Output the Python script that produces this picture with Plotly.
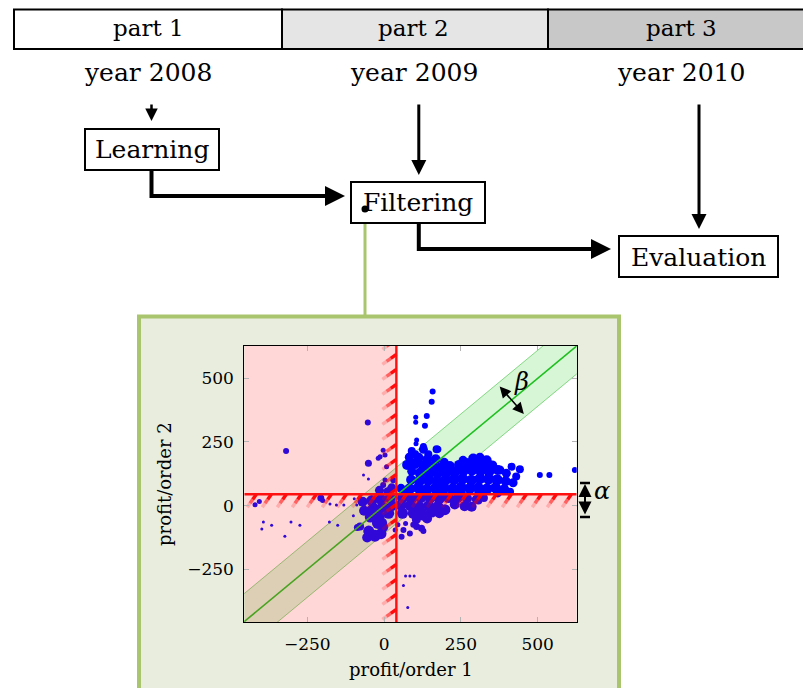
import plotly.graph_objects as go

W, H = 803, 688
FONT = "DejaVu Serif"

# ---------------- data ----------------
parts = ["part 1", "part 2", "part 3"]
years = ["year 2008", "year 2009", "year 2010"]
stages = ["Learning", "Filtering", "Evaluation"]

x_ticks = [-250, 0, 250, 500]
y_ticks = [-250, 0, 250, 500]
x_range = [-455, 627]
y_range = [-458, 628]

alpha_x = 40        # threshold on profit/order 1
alpha_y = 45        # threshold on profit/order 2
beta = 110          # half width of the diagonal band

points = [
    # top-right outliers
    (158, 448, 6), (155, 408, 6), (139, 352, 6), (103, 347, 5), (103, 327, 5), (133, 314, 6),
    (106, 258, 5), (104, 243, 5), (128, 232, 7), (175, 221, 7),
    # top-right cluster
    (90, 215, 8), (128, 221, 9), (144, 202, 8), (171, 221, 8), (101, 202, 8),
    (82, 190, 9), (112, 188, 10), (140, 180, 10), (168, 182, 10), (196, 170, 9),
    (75, 160, 10), (100, 165, 11), (130, 158, 11), (158, 152, 11), (186, 150, 11), (214, 156, 10),
    (244, 160, 10), (257, 178, 9), (290, 185, 10), (312, 190, 9), (334, 178, 10), (270, 165, 11),
    (300, 168, 11), (325, 160, 11), (352, 158, 10),
    (90, 135, 9), (118, 128, 11), (146, 125, 11), (174, 128, 11), (202, 130, 11), (230, 132, 11),
    (258, 138, 11), (286, 140, 11), (314, 138, 11), (342, 135, 11), (370, 140, 10), (398, 127, 9),
    (377, 140, 9), (430, 114, 8),
    (88, 102, 10), (116, 98, 11), (144, 100, 11), (172, 96, 11), (200, 100, 11), (228, 102, 11),
    (256, 105, 11), (284, 100, 11), (312, 106, 11), (340, 104, 11), (368, 102, 11), (396, 96, 10),
    (420, 90, 9),
    (55, 68, 9), (83, 66, 11), (111, 70, 11), (139, 64, 11), (167, 68, 11), (195, 70, 11),
    (223, 66, 11), (251, 72, 11), (279, 68, 11), (307, 70, 11), (335, 66, 11), (363, 70, 11),
    (391, 64, 10), (410, 55, 8),
    (70, 52, 10), (130, 50, 10), (190, 52, 10), (250, 50, 10), (310, 52, 10), (370, 50, 9),
    (415, 153, 8), (442, 143, 8), (507, 120, 6), (538, 120, 6), (621, 140, 6),
    # bottom-right (below alpha_y)
    (60, 30, 11), (90, 28, 11), (120, 32, 11), (150, 30, 11), (180, 28, 11), (210, 32, 11),
    (240, 30, 10), (270, 28, 10), (300, 25, 9), (325, 30, 8),
    (55, 2, 11), (85, 0, 11), (115, -5, 11), (145, 0, 11), (175, -3, 11), (198, -16, 11),
    (230, 5, 10), (262, -2, 10), (285, -4, 10), (307, 20, 8),
    (60, -30, 11), (95, -30, 11), (125, -35, 12), (155, -25, 11), (180, -30, 10), (140, -50, 10),
    (105, -55, 9),
    (36, -96, 5), (63, -96, 6), (57, -122, 6), (84, -109, 6), (106, -82, 7), (122, -89, 7),
    (70, -70, 5), (95, -75, 6), (128, -100, 6), (45, -75, 5),
    # around origin, left of alpha_x
    (20, 30, 11), (-10, 25, 11), (-40, 20, 11), (-70, 15, 10), (25, 0, 11), (-5, -5, 11),
    (-35, -10, 11), (-65, -20, 10), (15, -30, 11), (-15, -40, 11), (-45, -45, 11), (-20, -68, 12),
    (-8, -68, 11), (-46, -21, 10), (-50, -100, 11), (-30, -118, 12), (-10, -110, 11),
    (-55, -125, 10), (-78, -82, 8), (-87, -86, 7), (-3, -85, 10),
    # upper-left near origin
    (-3, 218, 5), (3, 199, 5), (-19, 186, 5), (-13, 192, 5), (8, 153, 5), (-51, 166, 7),
    (-53, 326, 6), (-67, 120, 3), (-51, 105, 3), (3, 101, 5), (-3, 81, 6), (12, 55, 9),
    (25, 70, 9), (-15, 60, 9), (30, 100, 6),
    # far-left outliers
    (-319, 215, 6), (-420, 4, 5), (-406, 16, 5), (-206, 30, 7), (-200, 20, 5), (-176, 6, 3),
    (-155, 3, 3), (-131, 3, 3), (-97, 27, 3), (-89, 3, 3), (-393, -64, 3), (-366, -77, 3),
    (-398, -92, 3), (-303, -64, 3), (-274, -77, 3), (-323, -120, 3), (-178, -64, 3),
    (-151, -77, 3), (-100, -40, 3),
    # bottom outliers
    (70, -276, 3), (84, -276, 3), (98, -276, 3), (63, -314, 3), (77, -400, 3),
]
profit1 = [p[0] for p in points]
profit2 = [p[1] for p in points]
bubble = [p[2] for p in points]

# ---------------- geometry helpers ----------------
def X(px):
    return px / W

def Y(py):
    return 1 - py / H

PL, PR, PT, PB = 244.3, 576.7, 345.7, 622.3   # plot area in pixels
ux = (x_range[1] - x_range[0]) / (PR - PL)    # data units per pixel
uy = (y_range[1] - y_range[0]) / (PB - PT)

x0, x1 = x_range
y0, y1 = y_range

fig = go.Figure()

# white plot background
fig.add_trace(go.Scatter(x=[x0, x1, x1, x0, x0], y=[y0, y0, y1, y1, y0], fill="toself",
                         fillcolor="white", line=dict(width=0), mode="lines",
                         hoverinfo="skip", showlegend=False))
# diagonal band
bx0, bx1 = x0 - 200, x1 + 200
fig.add_trace(go.Scatter(x=[bx0, bx1, bx1, bx0, bx0],
                         y=[bx0 - beta, bx1 - beta, bx1 + beta, bx0 + beta, bx0 - beta],
                         fill="toself", fillcolor="rgba(0,200,0,0.16)",
                         line=dict(width=0.8, color="rgba(60,190,60,0.75)"), mode="lines",
                         hoverinfo="skip", showlegend=False))
# points
fig.add_trace(go.Scatter(x=profit1, y=profit2, mode="markers",
                         marker=dict(color="#0000ff", size=bubble, opacity=1, line=dict(width=0)),
                         showlegend=False))
# diagonal line
fig.add_trace(go.Scatter(x=[bx0, bx1], y=[bx0, bx1], mode="lines",
                         line=dict(color="#1fbf1f", width=1.6), showlegend=False, hoverinfo="skip"))
# pink rejected regions
fig.add_trace(go.Scatter(
    x=[x0, alpha_x, alpha_x, x0, x0, None, alpha_x, x1, x1, alpha_x, alpha_x],
    y=[y0, y0, y1, y1, y0, None, y0, y0, alpha_y, alpha_y, y0],
    fill="toself", fillcolor="rgba(255,40,40,0.19)", line=dict(width=0), mode="lines",
    hoverinfo="skip", showlegend=False))

# hatching along the thresholds (fading away from the line)
def hatch(f0, f1):
    xs, ys = [], []
    xb = x0 - 12 * ux
    while xb < x1 + 12 * ux:
        tx, ty = xb + 9 * ux, alpha_y
        bxp, byp = xb, alpha_y - 13 * uy
        xs += [tx + f0 * (bxp - tx), tx + f1 * (bxp - tx), None]
        ys += [ty + f0 * (byp - ty), ty + f1 * (byp - ty), None]
        xb += 15 * ux
    yb = y0 - 12 * uy
    while yb < y1 + 12 * uy:
        rx, ry = alpha_x, yb + 10 * uy
        lx, ly = alpha_x - 14 * ux, yb
        xs += [rx + f0 * (lx - rx), rx + f1 * (lx - rx), None]
        ys += [ry + f0 * (ly - ry), ry + f1 * (ly - ry), None]
        yb += 15 * uy
    return xs, ys

for (f0, f1, op) in [(0.0, 0.4, 0.95), (0.4, 0.7, 0.55), (0.7, 1.0, 0.2)]:
    hx, hy = hatch(f0, f1)
    fig.add_trace(go.Scatter(x=hx, y=hy, mode="lines",
                             line=dict(color="rgba(255,0,0,%s)" % op, width=3.5),
                             hoverinfo="skip", showlegend=False))

# red threshold lines
fig.add_trace(go.Scatter(x=[alpha_x, alpha_x, None, x0, x1], y=[y0, y1, None, alpha_y, alpha_y],
                         mode="lines", line=dict(color="#ff1010", width=2.4),
                         hoverinfo="skip", showlegend=False))

# ---------------- diagram shapes ----------------
shapes = []
# green panel
shapes.append(dict(type="rect", xref="paper", yref="paper", x0=X(139), x1=X(619), y0=Y(702), y1=Y(316.5),
                   fillcolor="#e9eddd", line=dict(color="#a9c56e", width=4), layer="below"))
shapes.append(dict(type="line", xref="paper", yref="paper", x0=X(365), x1=X(365), y0=Y(209), y1=Y(316),
                   line=dict(color="#a9c56e", width=3), layer="below"))
# top bar
bar_edges = [14, 282, 548, 808]
bar_fill = ["white", "#e5e5e5", "#c8c8c8"]
for i in range(3):
    shapes.append(dict(type="rect", xref="paper", yref="paper", x0=X(bar_edges[i]), x1=X(bar_edges[i + 1]),
                       y0=Y(49), y1=Y(9.5), fillcolor=bar_fill[i], line=dict(color="black", width=2),
                       layer="below"))
# stage boxes
boxes = [(85, 129, 219, 170), (351, 182, 485, 223), (619, 236, 778, 277)]
for (a, b, c, d) in boxes:
    shapes.append(dict(type="rect", xref="paper", yref="paper", x0=X(a), x1=X(c), y0=Y(d), y1=Y(b),
                       fillcolor="white", line=dict(color="black", width=2), layer="below"))
# connectors (vertical parts)
for (xa, ya, yb) in [(151.5, 170, 196), (418.8, 223, 249)]:
    shapes.append(dict(type="line", xref="paper", yref="paper", x0=X(xa), x1=X(xa), y0=Y(ya), y1=Y(yb + 2),
                       line=dict(color="black", width=4), layer="below"))
# dot on filtering
shapes.append(dict(type="circle", xref="paper", yref="paper", x0=X(361.5), x1=X(368.5), y0=Y(212.5),
                   y1=Y(205.5), fillcolor="black", line=dict(width=0)))
# alpha caps
for yy in [483, 517]:
    shapes.append(dict(type="line", xref="paper", yref="paper", x0=X(580), x1=X(590), y0=Y(yy), y1=Y(yy),
                       line=dict(color="black", width=2.5)))

# ---------------- annotations ----------------
def label(px, py, text, size, **kw):
    d = dict(x=X(px), y=Y(py), xref="paper", yref="paper", text=text, showarrow=False,
             font=dict(family=FONT, size=size, color="black"), xanchor="center", yanchor="middle")
    d.update(kw)
    return d

ann = []
part_cx = [148, 414, 681]
for i in range(3):
    ann.append(label(part_cx[i], 28, parts[i], 23))
    ann.append(label(part_cx[i], 73, years[i], 25))
stage_c = [(151.5, 149), (418, 203), (698.5, 257)]
for i in range(3):
    ann.append(label(stage_c[i][0], stage_c[i][1], stages[i], 25))

def arrow(tx, ty, hx, hy, w):
    return dict(x=X(hx), y=Y(hy), xref="paper", yref="paper", ax=tx - hx, ay=ty - hy, text="",
                showarrow=True, arrowhead=2, arrowsize=1.0, arrowwidth=w, arrowcolor="black", standoff=0)

ann += [arrow(151.5, 103, 151.5, 121, 2.5), arrow(418.8, 103, 418.8, 175, 3),
        arrow(699, 103, 699, 229, 3), arrow(149.5, 196, 345, 196, 4), arrow(416.8, 249, 611, 249, 4)]

# beta arrow (across the band) and label
ann.append(dict(x=455, y=360, ax=372, ay=474, xref="x", yref="y", axref="x", ayref="y", text="",
                showarrow=True, arrowhead=2, startarrowhead=2, arrowside="end+start", arrowsize=1.4,
                startarrowsize=1.4, arrowwidth=1.6, arrowcolor="black"))
ann.append(label(521, 382, "<i>β</i>", 24))
# alpha marker and label
ann.append(dict(x=X(585), y=Y(484), ax=0, ay=32, xref="paper", yref="paper", text="", showarrow=True,
                arrowhead=2, startarrowhead=2, arrowside="end+start", arrowsize=1.3, startarrowsize=1.3,
                arrowwidth=2, arrowcolor="black"))
ann.append(label(592, 491, "<i>α</i>", 24, xanchor="left"))
# axis titles
ann.append(label(410.5, 669, "profit/order 1", 18))
ann.append(label(164, 484, "profit/order 2", 18, textangle=-90))

axis_common = dict(showgrid=False, zeroline=False, showline=True, linecolor="black", linewidth=1,
                   mirror="ticks", ticks="inside", ticklen=5, tickcolor="#b4b4b4",
                   tickfont=dict(family=FONT, size=17, color="black"))

fig.update_layout(
    width=W, height=H, margin=dict(l=0, r=0, t=0, b=0),
    paper_bgcolor="white", plot_bgcolor="rgba(0,0,0,0)",
    xaxis=dict(range=x_range, domain=[PL / W, PR / W], tickvals=x_ticks, ticklabelstandoff=6,
               **axis_common),
    yaxis=dict(range=y_range, domain=[1 - PB / H, 1 - PT / H], tickvals=y_ticks, ticklabelstandoff=6,
               **axis_common),
    shapes=shapes, annotations=ann, showlegend=False,
)

fig.write_html("out.html", config={"displayModeBar": False},
               post_script="document.body.style.margin='0px';document.body.style.overflow='hidden';")
